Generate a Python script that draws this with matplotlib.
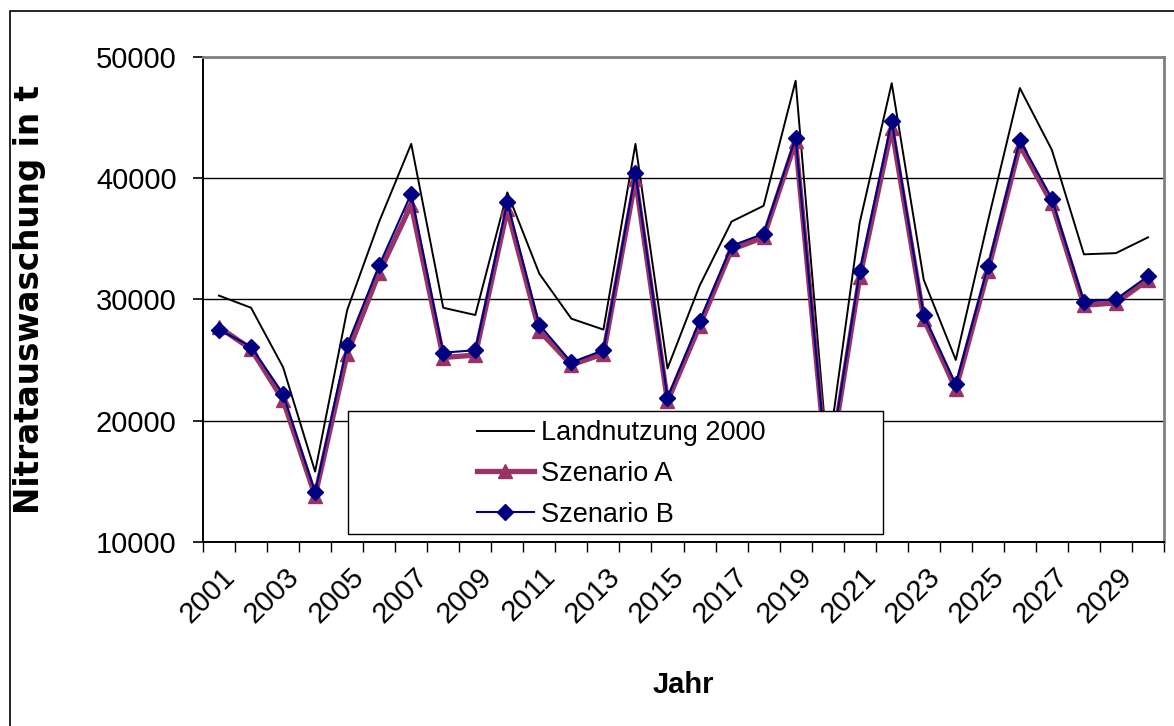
import matplotlib
matplotlib.use("Agg")
import matplotlib.pyplot as plt
from matplotlib.patches import Rectangle
from matplotlib.transforms import ScaledTranslation
import numpy as np

years = list(range(2001, 2031))
landnutzung = [30300, 29300, 24400, 15800, 29100, 36400, 42800, 29300, 28700, 38800,
               32100, 28400, 27500, 42800, 24300, 31100, 36400, 37700, 48000, 17000,
               36300, 47800, 31600, 25000, 36400, 47400, 42300, 33700, 33800, 35100]
szenario_a = [27700, 25900, 21700, 13800, 25500, 32200, 37800, 25200, 25400, 37400,
              27400, 24600, 25500, 39900, 21600, 27800, 34100, 35100, 43000, 15200,
              31800, 44100, 28400, 22600, 32300, 42700, 37900, 29500, 29700, 31600]
szenario_b = [27500, 26100, 22200, 14100, 26200, 32800, 38700, 25600, 25800, 38000,
              27900, 24800, 25800, 40400, 21900, 28200, 34400, 35400, 43300, 15500,
              32300, 44700, 28700, 23000, 32700, 43100, 38300, 29800, 30000, 31900]
y_ticks = [10000, 20000, 30000, 40000, 50000]

plt.rcParams['font.family'] = ['Liberation Sans', 'DejaVu Sans']

W, H = 1174, 726
fig = plt.figure(figsize=(W / 100, H / 100), dpi=100)

def px_box(x0, y0, x1, y1):
    # pixel box (top-left origin) -> figure fraction [left, bottom, width, height]
    return [x0 / W, 1 - y1 / H, (x1 - x0) / W, (y1 - y0) / H]

ax = fig.add_axes(px_box(203, 56.5, 1164, 542))

x = np.arange(len(years))
ax.plot(x, landnutzung, color='black', lw=1.4, label='Landnutzung 2000', zorder=3)
ax.plot(x, szenario_a, color='#993366', lw=3.8, marker='^', ms=10.5,
        label='Szenario A', zorder=4)
ax.plot(x, szenario_b, color='#000080', lw=1.5, marker='D', ms=8.5,
        label='Szenario B', zorder=5)

ax.set_xlim(-0.5, len(years) - 0.5)
ax.set_ylim(10000, 50000)
ax.set_yticks(y_ticks)
ax.set_yticklabels([str(v) for v in y_ticks], fontsize=21)
ax.tick_params(axis='y', length=7, width=1.2, pad=12)
ax.yaxis.grid(True, color='black', lw=1.0)
ax.set_axisbelow(True)

ax.set_xticks(x[::2])
ax.set_xticklabels([str(y) for y in years[::2]], fontsize=21, rotation=45,
                   ha='right', va='center', rotation_mode='anchor')
ax.tick_params(axis='x', length=0, pad=22)
shift = ScaledTranslation(0.12, 0, fig.dpi_scale_trans)
for lbl in ax.get_xticklabels():
    lbl.set_transform(lbl.get_transform() + shift)
ax.set_xticks(np.arange(-0.5, len(years), 1.0), minor=True)
ax.tick_params(axis='x', which='minor', length=7, width=1.0)

for side in ['left', 'bottom']:
    ax.spines[side].set_color('black')
    ax.spines[side].set_linewidth(1.4)
for side in ['top', 'right']:
    ax.spines[side].set_color('#808080')
    ax.spines[side].set_linewidth(2.0)

ax.set_xlabel('Jahr', fontsize=21, fontweight='bold', labelpad=31)
# the rotated label in the original is stretched along its length
ax.set_ylabel('Nitratauswaschung in t', fontsize=23.5, fontweight='bold',
              family=['DejaVu Sans'])
ax.yaxis.set_label_coords((46 - 203) / 961, 0.5)

# legend box (Excel-style, wide white box over the lines)
box = Rectangle((348 / W, 1 - 534 / H), (883 - 348) / W, (534 - 411) / H,
                transform=fig.transFigure, facecolor='white', edgecolor='black',
                lw=1.0, zorder=10)
fig.add_artist(box)
leg = fig.legend(loc='upper left', bbox_to_anchor=(477 / W, 1 - 420 / H),
                 frameon=False, fontsize=19.5, handlelength=2.1,
                 handletextpad=0.25, labelspacing=0.55, borderpad=0,
                 borderaxespad=0)
leg.set_zorder(11)

# outer chart border
fig.add_artist(Rectangle((9.5 / W, -0.1), 1.2, 1 - 10.5 / H + 0.1,
                         transform=fig.transFigure, fill=False,
                         edgecolor='black', lw=1.2, zorder=0))

fig.savefig('out.png', dpi=100)
plt.close(fig)
